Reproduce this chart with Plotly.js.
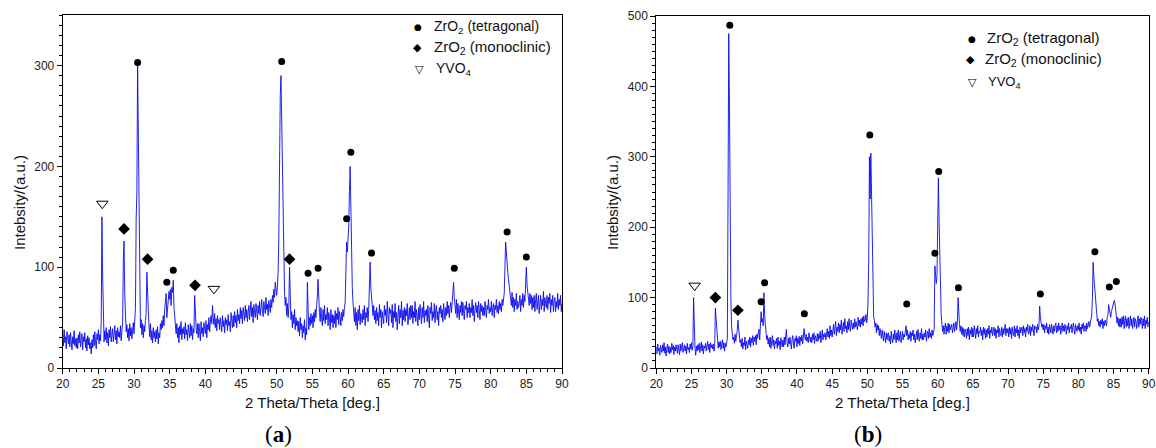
<!DOCTYPE html>
<html>
<head>
<meta charset="utf-8">
<script src="https://cdn.plot.ly/plotly-3.0.1.min.js"></script>
<style>html,body{margin:0;padding:0;background:#fff;}#chart{width:1156px;height:448px;}</style>
</head>
<body>
<div id="chart"></div>
<script>
// ---- sampling grid (2θ start / step, degrees) ----
const thetaStart = 20;
const thetaStep = 0.1;

// ---- panel (a) intensity, one row per degree (x.0 ... x.9) ----
const intensityA = [
34,22,38,25,31,19,36,27,24,33,
21,35,26,18,31,24,37,22,29,20,
30,19,33,25,36,21,28,34,18,31,
26,35,20,29,17,32,23,30,19,25,
14,28,20,33,22,36,26,19,34,28,
38,24,33,27,45,150,92,40,26,37,
28,40,25,35,22,38,30,41,26,33,
39,26,34,42,28,37,24,40,31,36,
30,42,27,38,45,107,126,72,50,36,
43,30,39,27,44,32,40,29,37,45,
34,50,60,148,175,300,225,150,62,40,
48,33,44,30,42,36,47,55,95,82,
58,42,31,44,28,37,25,40,30,36,
26,38,29,41,24,35,30,44,38,47,
40,52,42,58,66,74,50,63,70,76,
68,78,62,80,75,87,60,50,42,34,
44,30,40,25,42,33,46,28,39,34,
41,29,45,33,38,27,43,36,30,44,
32,42,28,39,35,72,50,40,34,44,
30,44,36,27,46,34,40,31,45,38,
34,47,30,43,38,50,36,45,52,44,
62,50,43,54,40,49,37,52,44,48,
38,50,44,36,52,41,47,35,50,43,
48,37,53,42,46,36,55,44,40,52,
41,56,45,52,40,58,47,53,44,60,
49,57,44,60,52,47,62,50,58,46,
55,62,48,58,66,51,60,45,63,55,
50,64,56,48,62,54,66,52,59,68,
57,51,66,60,54,70,58,63,52,67,
62,55,68,60,72,65,78,70,85,74,
72,80,95,130,235,270,290,250,200,165,
95,75,62,70,52,64,50,60,100,58,
48,56,40,53,44,58,38,50,42,47,
36,46,32,50,38,44,30,42,35,48,
28,40,33,85,45,38,50,42,54,44,
52,40,55,46,58,50,62,70,88,62,
55,46,60,50,42,58,47,62,44,53,
48,60,42,55,50,38,58,45,53,40,
52,44,57,40,54,48,60,43,56,50,
42,55,47,58,51,60,65,95,125,115,
130,140,175,200,160,110,80,65,55,46,
60,42,55,38,58,47,62,43,54,50,
45,58,48,62,42,55,50,60,46,58,
75,105,80,66,58,52,62,48,57,44,
60,47,55,42,63,50,58,40,56,52,
44,62,52,58,45,66,50,42,60,54,
58,45,63,40,56,50,64,46,55,38,
52,62,44,58,50,66,42,57,48,60,
46,58,52,64,43,55,60,48,62,50,
62,44,56,50,66,46,58,52,42,60,
48,63,54,44,60,50,66,45,57,52,
58,46,62,52,40,60,54,65,47,56,
50,64,45,58,62,48,56,42,60,54,
62,50,58,46,64,55,48,60,52,66,
54,62,50,60,65,55,68,72,85,70,
62,54,68,50,64,58,48,62,55,66,
52,65,56,48,62,58,66,50,60,55,
64,50,60,55,68,52,62,46,58,65,
55,62,50,66,58,48,64,56,62,52,
60,52,66,56,50,62,58,68,54,60,
56,66,52,60,64,50,62,58,68,55,
62,54,66,58,64,56,68,62,70,74,
100,125,115,100,95,88,82,76,72,62,
75,60,70,56,68,62,74,58,66,60,
64,72,56,68,62,74,60,72,66,78,
100,82,76,70,62,74,64,72,58,70,
60,72,56,68,74,58,66,72,54,68,
72,58,68,62,76,56,70,64,60,72,
58,70,64,74,55,68,62,72,56,66,
70,56,66,60,74,58,68,62,72,56,
64
];

// ---- panel (b) intensity ----
const intensityB = [
30,20,34,24,28,18,32,25,22,33,
24,36,21,30,17,28,34,22,31,20,
29,22,35,26,32,19,30,24,33,27,
21,33,26,19,34,24,30,36,22,28,
33,24,31,20,35,26,29,22,34,27,
36,25,30,100,55,28,18,31,24,33,
26,35,22,30,37,24,33,20,31,28,
35,24,32,38,26,34,22,36,29,33,
27,34,24,30,85,68,45,38,28,37,
30,38,26,34,40,28,36,24,35,30,
38,42,245,475,375,145,100,60,48,40,
44,35,48,38,46,52,68,55,42,36,
40,30,42,27,36,32,44,26,38,34,
28,40,33,44,30,42,36,46,32,44,
38,46,33,48,42,50,55,40,58,80,
65,70,60,107,75,55,50,40,46,34,
42,30,44,28,38,46,32,40,27,38,
34,42,28,44,32,38,26,43,36,30,
40,30,44,33,46,55,35,30,42,34,
44,32,27,40,46,34,28,42,38,46,
30,42,35,45,32,44,38,47,34,42,
56,46,40,48,38,44,36,50,42,37,
44,36,48,40,50,35,46,42,38,49,
38,48,42,52,36,46,54,40,48,44,
50,40,48,56,44,52,42,60,46,54,
44,58,62,48,56,66,46,58,52,64,
50,62,54,68,48,58,65,52,70,56,
60,50,66,54,70,58,52,68,60,55,
64,56,70,58,66,62,54,72,60,68,
58,70,62,72,60,74,66,68,76,64,
70,95,155,300,240,305,230,150,100,72,
68,58,64,50,62,54,60,46,56,50,
42,54,46,38,52,44,36,50,40,48,
50,38,46,34,52,42,36,48,40,54,
44,36,50,40,54,38,46,52,36,48,
52,40,48,44,50,60,46,54,40,48,
42,52,38,50,46,54,40,48,36,50,
52,40,55,44,38,50,42,56,40,48,
40,50,44,54,38,48,52,42,56,44,
50,42,54,46,52,55,145,125,120,130,
200,270,210,150,100,75,62,52,60,48,
58,64,48,60,52,64,50,62,54,58,
62,50,58,64,52,60,66,54,65,100,
75,62,52,60,48,58,46,56,44,55,
52,42,56,46,58,40,54,48,58,44,
56,44,60,50,42,56,48,60,44,52,
50,58,46,54,40,58,48,56,42,54,
44,56,48,60,42,54,50,58,46,52,
58,46,56,42,54,50,60,44,56,48,
46,58,44,56,48,54,62,46,56,50,
56,44,58,48,56,42,58,50,46,60,
44,56,50,60,46,54,42,58,50,56,
58,46,60,50,56,44,58,52,62,48,
50,60,46,58,52,62,54,46,60,56,
58,50,62,54,60,88,72,65,58,62,
54,62,50,60,56,64,50,58,48,62,
58,50,62,56,48,60,52,60,64,50,
60,52,64,54,60,48,58,64,52,60,
52,62,56,48,60,54,64,50,58,56,
62,50,58,64,54,48,62,56,52,60,
54,64,52,58,48,62,56,64,52,60,
60,52,64,56,60,66,58,64,70,75,
100,150,130,115,95,80,74,66,70,60,
66,58,68,62,70,56,66,60,68,62,
60,72,75,90,85,78,72,80,85,88,
90,96,92,80,72,64,72,60,70,58,
70,58,72,62,74,56,68,74,58,70,
60,72,56,68,74,60,70,56,66,72,
58,70,66,56,68,74,58,70,62,72,
68,56,70,60,74,56,68,62,72,58,
66
];

// ---- phase markers (2θ, intensity) ----
const tetraA_x = [30.5,34.6,35.5,50.7,54.4,55.8,59.8,60.4,63.3,74.9,82.3,85.0];
const tetraA_y = [303,85,97,304,94,99,148,214,114,99,135,110];
const monoA_x = [28.6,31.9,38.55,51.8];
const monoA_y = [138,108,82,108];
const yvoA_x = [25.55,41.2];
const yvoA_y = [163,78.5];

const tetraB_x = [30.45,34.9,35.4,41.05,50.35,55.6,59.6,60.15,62.95,74.6,82.35,84.4,85.4];
const tetraB_y = [487,94,121,77,331,91,163,279,114,105,165,115,123];
const monoB_x = [28.4,31.6];
const monoB_y = [100,82];
const yvoB_x = [25.45];
const yvoB_y = [117];

// ---- text ----
const xTitle = '2 Theta/Theta [deg.]';
const yTitle = 'Intebsity/(a.u.)';
const legendLabels = ['ZrO<sub>2</sub> (tetragonal)', 'ZrO<sub>2</sub> (monoclinic)', 'YVO<sub>4</sub>'];
const panelLabels = ['(<b>a</b>)', '(<b>b</b>)'];

const W = 1156, H = 448;
const px = v => v / W;
const py = v => 1 - v / H;

function grid(arr) { return arr.map((_, i) => +(thetaStart + i * thetaStep).toFixed(2)); }

const lineStyle = {color: 'rgb(10,10,240)', width: 0.9};
function markerTrace(x, y, xa, ya, symbol, size) {
  return {x, y, xaxis: xa, yaxis: ya, type: 'scatter', mode: 'markers', hoverinfo: 'skip',
    marker: {symbol, size, color: '#000', line: {color: '#000', width: symbol.indexOf('open') >= 0 ? 1 : 0}}};
}

const traces = [
  {x: grid(intensityA), y: intensityA, xaxis: 'x', yaxis: 'y', type: 'scatter', mode: 'lines', line: lineStyle},
  {x: grid(intensityB), y: intensityB, xaxis: 'x2', yaxis: 'y2', type: 'scatter', mode: 'lines', line: lineStyle},
  markerTrace(tetraA_x, tetraA_y, 'x', 'y', 'circle', 7),
  markerTrace(monoA_x, monoA_y, 'x', 'y', 'diamond', 9),
  markerTrace(yvoA_x, yvoA_y, 'x', 'y', 'triangle-down-open', 10),
  markerTrace(tetraB_x, tetraB_y, 'x2', 'y2', 'circle', 7),
  markerTrace(monoB_x, monoB_y, 'x2', 'y2', 'diamond', 9),
  markerTrace(yvoB_x, yvoB_y, 'x2', 'y2', 'triangle-down-open', 10)
];

const FONT = 'Liberation Sans, Arial, sans-serif';
function xAxis(d) {
  return {domain: d, range: [20, 90], tick0: 20, dtick: 5, ticks: 'outside', ticklen: 5, tickwidth: 1,
    tickcolor: '#000', showline: true, linecolor: '#000', linewidth: 1, mirror: true,
    showgrid: false, zeroline: false, tickfont: {family: FONT, size: 12, color: '#222'},
    minor: {dtick: 1, tick0: 20, ticks: 'outside', ticklen: 3, tickcolor: '#000', tickwidth: 1, showgrid: false}};
}
function yAxis(d, r, anchor) {
  return {domain: d, range: r, tick0: 0, dtick: 100, ticks: 'outside', ticklen: 5, tickwidth: 1,
    tickcolor: '#000', showline: true, linecolor: '#000', linewidth: 1, mirror: true,
    showgrid: false, zeroline: false, anchor, tickfont: {family: FONT, size: 12, color: '#222'},
    minor: {dtick: 10, tick0: 0, ticks: 'outside', ticklen: 3, tickcolor: '#000', tickwidth: 1, showgrid: false}};
}

const ann = [];
function txt(x, y, text, size, extra) {
  ann.push(Object.assign({xref: 'paper', yref: 'paper', x: px(x), y: py(y), text, showarrow: false,
    xanchor: 'center', yanchor: 'middle', font: {family: FONT, size, color: '#111'}}, extra || {}));
}
// axis titles
txt(312, 402, xTitle, 15);
txt(902, 402, xTitle, 15);
txt(19, 203, yTitle, 15, {textangle: -90});
txt(612, 203, yTitle, 15, {textangle: -90});
// panel labels
const serif = {family: 'Liberation Serif, Times New Roman, serif', size: 23, color: '#000'};
txt(278, 434, panelLabels[0], 23, {font: serif});
txt(868, 434, panelLabels[1], 23, {font: serif});
// legend symbols + labels
const sym = ['\u25CF', '\u25C6', '\u25BD'];
const sym9 = {family: 'DejaVu Sans', size: 9, color: '#000'};
const sym11 = {family: 'DejaVu Sans', size: 11, color: '#000'};
// (a)
txt(418, 27, sym[0], 9, {font: sym9});
txt(417, 47, sym[1], 11, {font: sym11});
txt(419, 69, sym[2], 11, {font: sym11});
txt(432, 27, legendLabels[0], 14, {xanchor: 'left'});
txt(432, 47, legendLabels[1], 15, {xanchor: 'left'});
txt(434, 69, legendLabels[2], 14, {xanchor: 'left'});
// (b)
txt(972, 39, sym[0], 9, {font: sym9});
txt(970, 60, sym[1], 11, {font: sym11});
txt(972, 82, sym[2], 11, {font: sym11});
txt(985, 39, legendLabels[0], 15, {xanchor: 'left'});
txt(983, 60, legendLabels[1], 15, {xanchor: 'left'});
txt(986, 82, legendLabels[2], 13, {xanchor: 'left'});

const layout = {
  width: W, height: H, margin: {l: 0, r: 0, t: 0, b: 0},
  paper_bgcolor: '#fff', plot_bgcolor: '#fff', showlegend: false,
  xaxis: Object.assign(xAxis([px(62.7), px(562)]), {anchor: 'y'}),
  yaxis: yAxis([py(368), py(15.2)], [0, 350], 'x'),
  xaxis2: Object.assign(xAxis([px(656.3), px(1148.7)]), {anchor: 'y2'}),
  yaxis2: yAxis([py(368), py(16)], [0, 500], 'x2'),
  annotations: ann
};

Plotly.newPlot('chart', traces, layout, {displayModeBar: false, staticPlot: true});
</script>
</body>
</html>
